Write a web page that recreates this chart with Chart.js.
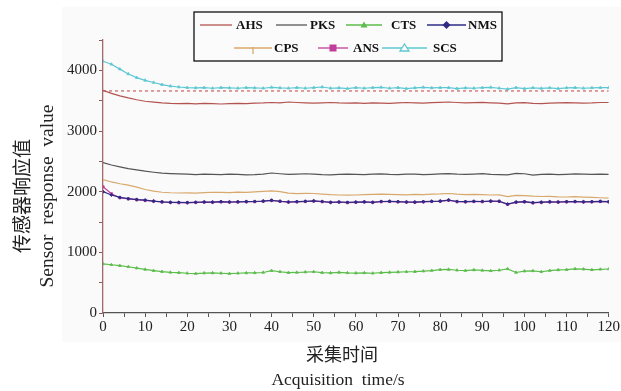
<!DOCTYPE html>
<html>
<head>
<meta charset="utf-8">
<script src="https://cdn.jsdelivr.net/npm/chart.js@4/dist/chart.umd.min.js"></script>
<style>
  html, body { margin: 0; padding: 0; background: #fff; }
  canvas { display: block; }
</style>
</head>
<body>
<canvas id="chart" width="621" height="391"></canvas>
<script>
// acquisition time (s)
const times = [
  0, 2, 4, 6, 8, 10, 12, 14, 16, 18,
  20, 22, 24, 26, 28, 30, 32, 34, 36, 38,
  40, 42, 44, 46, 48, 50, 52, 54, 56, 58,
  60, 62, 64, 66, 68, 70, 72, 74, 76, 78,
  80, 82, 84, 86, 88, 90, 92, 94, 96, 98,
  100, 102, 104, 106, 108, 110, 112, 114, 116, 118,
  120
];

const ahs = [
  3670, 3620, 3580, 3545, 3515, 3490, 3475, 3462, 3455, 3452,
  3455, 3448, 3455, 3450, 3445, 3452, 3455, 3450, 3458, 3462,
  3470, 3465, 3478, 3470, 3465, 3458, 3465, 3470, 3462, 3458,
  3462, 3455, 3465, 3460, 3455, 3462, 3470, 3465, 3460, 3468,
  3472, 3478, 3470, 3462, 3468, 3472, 3465, 3458, 3448, 3462,
  3468, 3455, 3450, 3458, 3462, 3468, 3465, 3458, 3462, 3470,
  3470
];
const pks = [
  2480, 2440, 2410, 2380, 2360, 2338, 2320, 2305, 2298, 2292,
  2288, 2282, 2290, 2286, 2280, 2288, 2284, 2278, 2282, 2290,
  2308, 2295, 2285, 2290, 2295, 2288, 2280, 2276, 2284, 2290,
  2286, 2280, 2290, 2294, 2286, 2282, 2290, 2288, 2280, 2286,
  2292, 2296, 2288, 2284, 2290, 2296, 2286, 2282, 2278, 2300,
  2295, 2272, 2284, 2290, 2282, 2286, 2292, 2288, 2285, 2288,
  2286
];
const cts = [
  810, 795, 780, 762, 740, 718, 698, 682, 670, 664,
  655, 650, 658, 660, 655, 650, 655, 660, 662, 668,
  698, 680, 665, 668, 675, 680, 665, 660, 670, 662,
  658, 662, 655, 665, 670, 675, 680, 682, 690, 700,
  715, 718, 705, 700, 710, 702, 696, 705, 728, 668,
  690, 695, 680, 700, 710, 715, 728, 722, 712, 720,
  725
];
const nms = [
  2000, 1945, 1905, 1885, 1870, 1860, 1845, 1832, 1825, 1822,
  1820, 1825, 1830, 1828, 1835, 1830, 1832, 1836, 1838, 1845,
  1858, 1842, 1830, 1835, 1840, 1848, 1838, 1825, 1830, 1822,
  1828, 1832, 1825, 1838, 1840, 1835, 1830, 1828, 1835, 1840,
  1845, 1862, 1838, 1835, 1840, 1838, 1845, 1842, 1795, 1828,
  1835, 1818, 1826, 1832, 1830, 1835, 1838, 1832, 1835, 1840,
  1835
];
const cps = [
  2200, 2160, 2130, 2107, 2075, 2036, 2010, 1990, 1982, 1978,
  1980, 1975, 1985, 1990, 1988, 1985, 1992, 1988, 1995, 2005,
  2012, 2000, 1975, 1968, 1972, 1970, 1960, 1950, 1945, 1942,
  1945, 1950, 1955, 1960, 1955, 1950, 1948, 1955, 1952, 1958,
  1962, 1970, 1958, 1952, 1955, 1950, 1945, 1948, 1920, 1940,
  1935, 1925, 1920, 1922, 1915, 1912, 1918, 1910, 1905, 1900,
  1895
];
const ans = [
  2080, 1965, 1900, 1880, 1868, 1855, 1842, 1830, 1822, 1818,
  1818, 1822, 1828, 1825, 1832, 1828, 1830, 1834, 1836, 1842,
  1855, 1840, 1828, 1832, 1838, 1845, 1835, 1822, 1828, 1820,
  1825, 1830, 1822, 1835, 1838, 1832, 1828, 1825, 1832, 1838,
  1842, 1858, 1835, 1832, 1838, 1835, 1842, 1840, 1790, 1825,
  1832, 1815, 1822, 1830, 1828, 1832, 1835, 1830, 1832, 1838,
  1832
];
const scs = [
  4150, 4100, 4020, 3940, 3880, 3835, 3800, 3765, 3740, 3725,
  3715, 3710, 3715, 3705, 3715, 3710, 3705, 3715, 3710, 3705,
  3720, 3710, 3705, 3715, 3705, 3715, 3725, 3705, 3710, 3700,
  3715, 3705, 3715, 3720, 3705, 3715, 3700, 3710, 3720, 3710,
  3715, 3715, 3700, 3710, 3705, 3715, 3720, 3705, 3690, 3715,
  3700, 3712, 3702, 3712, 3700, 3712, 3715, 3705, 3712, 3715,
  3715
];

// dashed reference level
const refTimes = [0, 120];
const refLevel = [3660, 3660];

const xTickLabels = [0, 10, 20, 30, 40, 50, 60, 70, 80, 90, 100, 110, 120];
const yTickLabels = [0, 1000, 2000, 3000, 4000];

const pts = (xs, ys) => xs.map((x, i) => ({ x: x, y: ys[i] }));

const series = [
  { label: 'AHS', data: ahs, color: '#b45450', style: false },
  { label: 'PKS', data: pks, color: '#555555', style: false },
  { label: 'CTS', data: cts, color: '#5cbd4c', style: 'triangle' },
  { label: 'NMS', data: nms, color: '#2f2b85', style: 'rectRot' },
  { label: 'CPS', data: cps, color: '#d8a96c', style: false },
  { label: 'ANS', data: ans, color: '#c23c9e', style: 'rect' },
  { label: 'SCS', data: scs, color: '#5ec8d2', style: 'triangle' }
];

const datasets = series.map(s => ({
  label: s.label,
  data: pts(times, s.data),
  borderColor: s.color,
  backgroundColor: s.color,
  borderWidth: 1.2,
  pointStyle: s.style || 'circle',
  pointRadius: s.style ? 1.6 : 0,
  pointBorderWidth: 0.8,
  tension: 0
}));
datasets.splice(6, 0, {
  label: 'ref',
  data: pts(refTimes, refLevel),
  borderColor: '#c04040',
  borderWidth: 1,
  borderDash: [3, 3],
  pointRadius: 0
});

const serif = '"Liberation Serif", "DejaVu Serif", serif';

// light panel behind everything
const panel = {
  id: 'panel',
  beforeDraw(chart) {
    const ctx = chart.ctx;
    ctx.save();
    ctx.fillStyle = '#fafafa';
    ctx.fillRect(62, 7, 559, 335);
    ctx.restore();
  }
};

// axis titles and boxed legend
const decor = {
  id: 'decor',
  afterDraw(chart) {
    const ctx = chart.ctx;
    ctx.save();
    ctx.fillStyle = '#222';
    ctx.textAlign = 'center';
    ctx.textBaseline = 'middle';

    // y titles
    ctx.save();
    ctx.translate(22, 196);
    ctx.rotate(-Math.PI / 2);
    ctx.font = '19px "Noto Sans CJK SC"';
    ctx.fillText('传感器响应值', 0, 0);
    ctx.restore();
    ctx.save();
    ctx.translate(48, 196);
    ctx.rotate(-Math.PI / 2);
    ctx.font = '19.5px ' + serif;
    ctx.fillText('Sensor  response  value', 0, 0);
    ctx.restore();

    // x titles
    ctx.font = '18px "Noto Sans CJK SC"';
    ctx.fillText('采集时间', 342, 354);
    ctx.font = '17.5px ' + serif;
    ctx.fillText('Acquisition  time/s', 338, 380);

    // legend box
    ctx.fillStyle = '#fbfbfb';
    ctx.fillRect(194, 12, 308, 49);
    ctx.strokeStyle = '#111';
    ctx.lineWidth = 1.3;
    ctx.strokeRect(194, 12, 308, 49);

    const items = [
      { i: 0, x0: 200, x1: 232, tx: 236, y: 25 },
      { i: 1, x0: 276, x1: 307, tx: 310, y: 25 },
      { i: 2, x0: 346, x1: 382, tx: 391, y: 25 },
      { i: 3, x0: 427, x1: 466, tx: 468, y: 25 },
      { i: 4, x0: 234, x1: 272, tx: 274, y: 48 },
      { i: 5, x0: 318, x1: 348, tx: 353, y: 48 },
      { i: 6, x0: 382, x1: 427, tx: 433, y: 48 }
    ];
    ctx.font = 'bold 13px ' + serif;
    ctx.textAlign = 'left';
    items.forEach(it => {
      const s = series[it.i];
      const mx = (it.x0 + it.x1) / 2;
      ctx.strokeStyle = s.color;
      ctx.fillStyle = s.color;
      ctx.lineWidth = 1.3;
      ctx.beginPath();
      ctx.moveTo(it.x0, it.y);
      ctx.lineTo(it.x1, it.y);
      ctx.stroke();
      ctx.beginPath();
      if (s.label === 'CTS') {
        ctx.moveTo(mx, it.y - 3.5); ctx.lineTo(mx + 3.5, it.y + 2.5); ctx.lineTo(mx - 3.5, it.y + 2.5);
        ctx.closePath(); ctx.fill();
      } else if (s.label === 'NMS') {
        ctx.moveTo(mx, it.y - 4); ctx.lineTo(mx + 4, it.y); ctx.lineTo(mx, it.y + 4); ctx.lineTo(mx - 4, it.y);
        ctx.closePath(); ctx.fill();
      } else if (s.label === 'ANS') {
        ctx.fillRect(mx - 3.5, it.y - 3.5, 7, 7);
      } else if (s.label === 'SCS') {
        ctx.fillStyle = '#fbfbfb';
        ctx.moveTo(mx, it.y - 4); ctx.lineTo(mx + 4.5, it.y + 3); ctx.lineTo(mx - 4.5, it.y + 3);
        ctx.closePath(); ctx.fill(); ctx.stroke();
      } else if (s.label === 'CPS') {
        ctx.moveTo(mx, it.y - 1); ctx.lineTo(mx, it.y + 6); ctx.stroke();
      }
      ctx.fillStyle = '#111';
      ctx.textBaseline = 'middle';
      ctx.fillText(s.label, it.tx, it.y + 1);
    });
    ctx.restore();
  }
};

new Chart(document.getElementById('chart').getContext('2d'), {
  type: 'line',
  data: { datasets: datasets },
  options: {
    responsive: false,
    animation: false,
    devicePixelRatio: 1,
    layout: { padding: { left: 0, right: 12, top: 40, bottom: 0 } },
    plugins: {
      legend: { display: false },
      tooltip: { enabled: false }
    },
    scales: {
      x: {
        type: 'linear',
        min: 0,
        max: 120,
        afterFit: scale => { scale.height = 78; },
        afterBuildTicks: scale => {
          scale.ticks = [];
          for (let v = 0; v <= 120; v += 5) scale.ticks.push({ value: v });
        },
        ticks: {
          autoSkip: false,
          maxRotation: 0,
          padding: 1,
          color: '#222',
          font: { family: serif, size: 15 },
          callback: v => xTickLabels.includes(v) ? String(v) : ''
        },
        grid: { drawOnChartArea: false, drawTicks: true, tickLength: 4, color: '#555' },
        border: { color: '#555', width: 1.3 }
      },
      y: {
        min: 0,
        max: 4500,
        afterFit: scale => { scale.width = 103; },
        afterBuildTicks: scale => {
          scale.ticks = [];
          for (let v = 0; v <= 4500; v += 500) scale.ticks.push({ value: v });
        },
        ticks: {
          autoSkip: false,
          padding: 2,
          color: '#222',
          font: { family: serif, size: 15 },
          callback: v => yTickLabels.includes(v) ? String(v) : ''
        },
        grid: { drawOnChartArea: false, drawTicks: true, tickLength: 4, color: '#8a5a5a' },
        border: { color: '#a06a6a', width: 1.3 }
      }
    }
  },
  plugins: [panel, decor]
});
</script>
</body>
</html>
